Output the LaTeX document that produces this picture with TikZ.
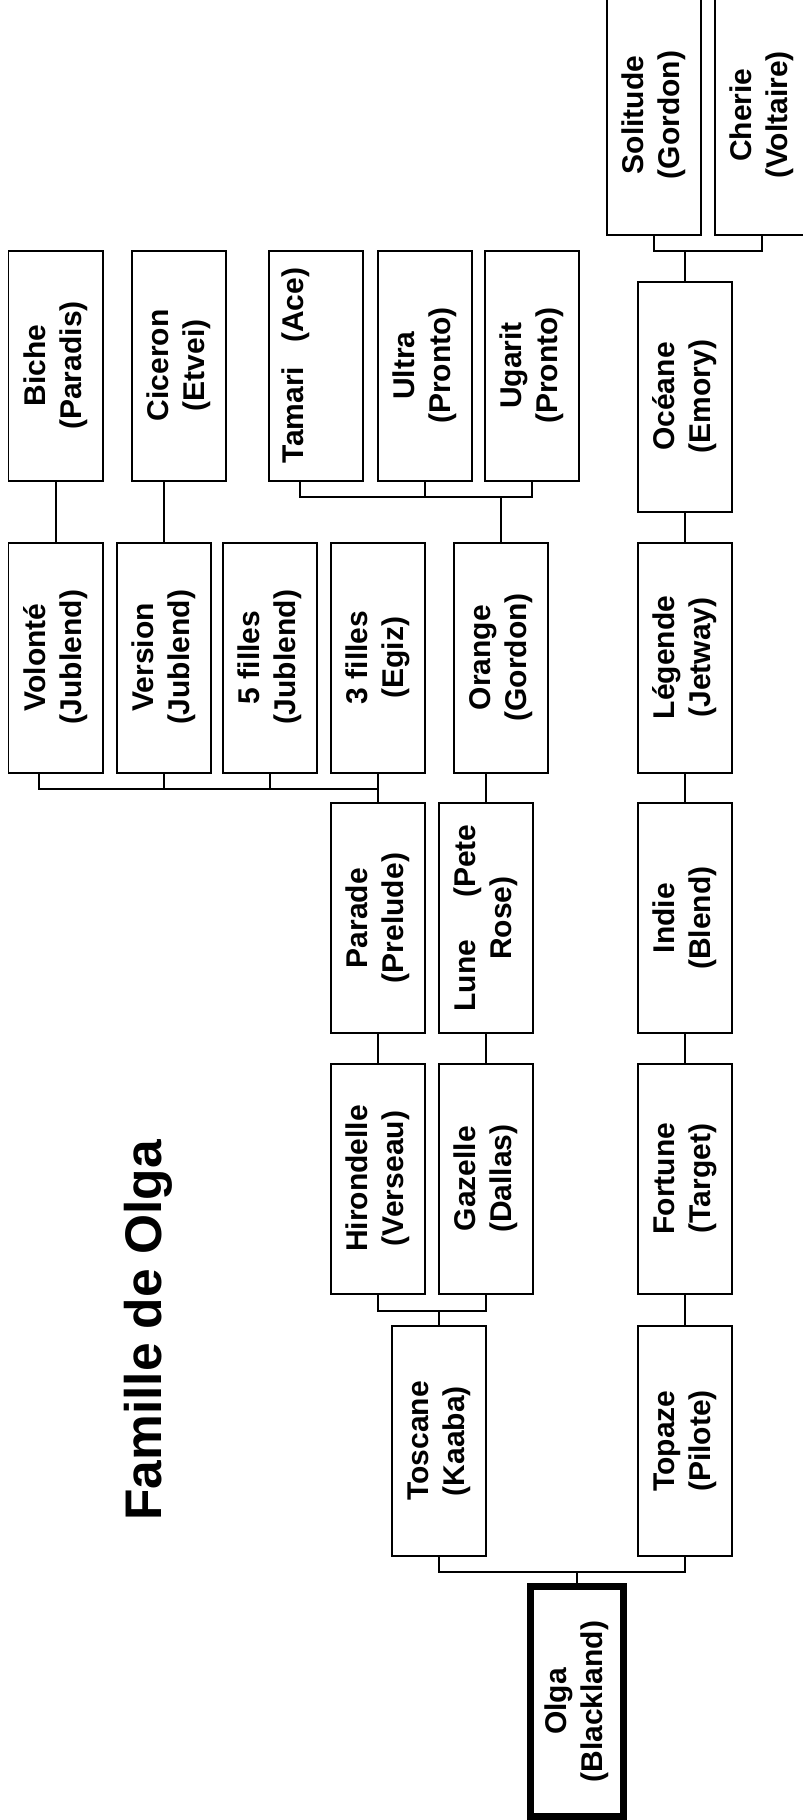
\documentclass[tikz,border=0pt]{standalone}
\usepackage{fontspec}
\setmainfont{Liberation Sans}
\newcommand{\boxfont}{\fontsize{17.07pt}{20.5pt}\selectfont\bfseries}
\newcommand{\titlefont}{\fontsize{29.3pt}{35pt}\selectfont\bfseries}

\begin{document}
\begin{tikzpicture}[
  line width=0.04cm,
  box/.style={draw,rotate=90,minimum width=4.6cm,minimum height=1.88cm,
              align=center,font=\boxfont,inner sep=2pt},
  rootbox/.style={box,line width=0.14cm,minimum height=1.86cm},
]
\clip (0,0) rectangle (16.06,-36.4);
\node[rotate=90,anchor=base,font=\titlefont] (title) at (3.22,-26.61) {Famille de Olga};
% top rows
\node[box,minimum width=4.8cm] (solitude) at (13.08,-2.3) {Solitude\\(Gordon)};
\node[box,minimum width=4.8cm] (cherie) at (15.24,-2.3) {Cherie\\(Voltaire)};
\node[box] (biche) at (1.11,-7.31) {Biche\\(Paradis)};
\node[box] (ciceron) at (3.58,-7.31) {Ciceron\\(Etvei)};
\node[box] (tamari) at (6.32,-7.31) {Tamari\hspace{0.48cm}(Ace)\\\strut};
\node[box] (ultra) at (8.49,-7.31) {Ultra\\(Pronto)};
\node[box] (ugarit) at (10.64,-7.31) {Ugarit\\(Pronto)};
\node[box] (oceane) at (13.70,-7.93) {Océane\\(Emory)};
\node[box] (volonte) at (1.11,-13.15) {Volonté\\(Jublend)};
\node[box] (version) at (3.27,-13.15) {Version\\(Jublend)};
\node[box] (filles5) at (5.40,-13.15) {5 filles\\(Jublend)};
\node[box] (filles3) at (7.56,-13.15) {3 filles\\(Egiz)};
\node[box] (orange) at (10.02,-13.15) {Orange\\(Gordon)};
\node[box] (legende) at (13.70,-13.15) {Légende\\(Jetway)};
% middle rows
\node[box] (parade) at (7.56,-18.36) {Parade\\(Prelude)};
\node[box] (lune) at (9.71,-18.36) {Lune\hspace{0.84cm}(Pete\\Rose)};
\node[box] (indie) at (13.70,-18.36) {Indie\\(Blend)};
\node[box] (hirondelle) at (7.56,-23.57) {Hirondelle\\(Verseau)};
\node[box] (gazelle) at (9.71,-23.57) {Gazelle\\(Dallas)};
\node[box] (fortune) at (13.70,-23.57) {Fortune\\(Target)};
\node[box] (toscane) at (8.78,-28.82) {Toscane\\(Kaaba)};
\node[box] (topaze) at (13.70,-28.82) {Topaze\\(Pilote)};
\node[rootbox] (olga) at (11.54,-34.03) {Olga\\(Blackland)};
% links
\draw (solitude.west) -- ++(0,-0.3) coordinate (barO) -| (cherie.west);
\draw (oceane.east) -- (oceane.east |- barO);
\draw (volonte.east) -- (biche.west);
\draw (version.east) -- (version.east |- ciceron.west);
\draw ([xshift=-0.32cm]tamari.west) -- ++(0,-0.3) coordinate (barA) -| (ugarit.west);
\draw (ultra.west) -- (ultra.west |- barA);
\draw (orange.east) -- (orange.east |- barA);
\draw (legende.east) -- (oceane.west);
\draw ([xshift=-0.33cm]volonte.west) -- ++(0,-0.3) coordinate (barB) -| (filles3.west);
\draw (version.west) -- (version.west |- barB);
\draw (filles5.west) -- (filles5.west |- barB);
\draw (parade.east) -- (parade.east |- barB);
\draw (lune.east) -- (lune.east |- orange.west);
\draw (indie.east) -- (legende.west);
\draw (hirondelle.east) -- (parade.west);
\draw (gazelle.east) -- (lune.west);
\draw (fortune.east) -- (indie.west);
\draw (hirondelle.west) -- ++(0,-0.32) coordinate (barD) -| (gazelle.west);
\draw (toscane.east) -- (toscane.east |- barD);
\draw (topaze.east) -- (fortune.west);
\draw (toscane.west) -- ++(0,-0.3) coordinate (barE) -| (topaze.west);
\draw (olga.east) -- (olga.east |- barE);
\end{tikzpicture}
\end{document}
